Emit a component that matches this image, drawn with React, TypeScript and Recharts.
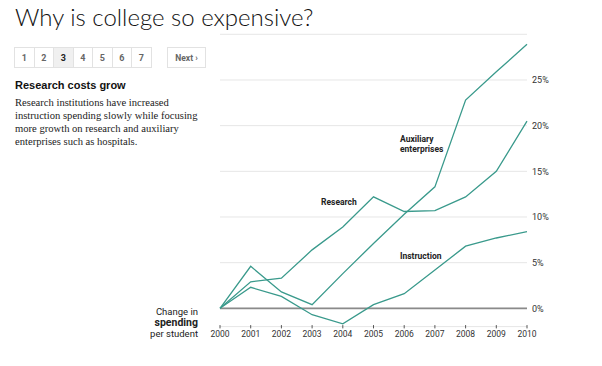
import { LineChart, Line, XAxis, YAxis, CartesianGrid, ReferenceLine } from 'recharts';

const years = [2000, 2001, 2002, 2003, 2004, 2005, 2006, 2007, 2008, 2009, 2010];
const research = [0, 2.9, 3.3, 6.4, 8.9, 12.2, 10.6, 10.7, 12.2, 15.0, 20.5];
const auxiliary = [0, 4.6, 1.8, 0.4, 3.8, 7.1, 10.3, 13.3, 22.8, 25.9, 28.9];
const instruction = [0, 2.3, 1.3, -0.7, -1.7, 0.4, 1.6, 4.2, 6.8, 7.7, 8.4];
const yTicks = [0, 5, 10, 15, 20, 25];
const pages = ['1', '2', '3', '4', '5', '6', '7'];
const currentPage = '3';

const data = years.map((year, i) => ({
  year,
  research: research[i],
  auxiliary: auxiliary[i],
  instruction: instruction[i],
}));

const TEAL = '#3a9a8c';
const SANS = 'Roboto, "Liberation Sans", sans-serif';

function YearTick({ x, y, payload }: any) {
  return (
    <g>
      <line x1={x} x2={x} y1={y - 1.5} y2={y + 1.8} stroke="#555" strokeWidth={1} />
      <text x={x} y={y + 10} textAnchor="middle" fontSize={8.5} fill="#333" fontFamily={SANS}>
        {payload.value}
      </text>
    </g>
  );
}

function PctTick({ x, y, payload }: any) {
  return (
    <text x={x} y={y + 3.5} textAnchor="start" fontSize={9} fill="#333" fontFamily={SANS}>
      {payload.value}%
    </text>
  );
}

const annot: React.CSSProperties = {
  position: 'absolute',
  fontFamily: SANS,
  fontWeight: 700,
  fontSize: 8.5,
  color: '#222',
  lineHeight: '10px',
};

export default function App() {
  return (
    <div style={{ position: 'absolute', left: 0, top: 0, width: 602, height: 366, background: '#fff', overflow: 'hidden' }}>
      <div style={{ position: 'absolute', left: 15, top: 2, fontFamily: 'Lato, sans-serif', fontWeight: 300, fontSize: 24, color: '#111', whiteSpace: 'nowrap' }}>
        Why is college so expensive?
      </div>

      <div style={{ position: 'absolute', left: 15, top: 47, display: 'flex' }}>
        {pages.map((p) => (
          <div
            key={p}
            style={{
              width: 20.5,
              height: 21,
              boxSizing: 'border-box',
              border: '1px solid #e2e2e2',
              marginLeft: -1,
              background: p === currentPage ? '#f0f0f0' : '#fff',
              color: p === currentPage ? '#222' : '#666',
              fontFamily: SANS,
              fontWeight: 700,
              fontSize: 9,
              display: 'flex',
              alignItems: 'center',
              justifyContent: 'center',
            }}
          >
            {p}
          </div>
        ))}
      </div>
      <div
        style={{
          position: 'absolute',
          left: 167,
          top: 47,
          width: 39,
          height: 21,
          boxSizing: 'border-box',
          border: '1px solid #e2e2e2',
          color: '#666',
          fontFamily: SANS,
          fontWeight: 700,
          fontSize: 8.5,
          display: 'flex',
          alignItems: 'center',
          justifyContent: 'center',
        }}
      >
        Next ›
      </div>

      <div style={{ position: 'absolute', left: 15, top: 79, fontFamily: '"Liberation Sans", Arial, sans-serif', fontWeight: 700, fontSize: 11, color: '#111' }}>
        Research costs grow
      </div>
      <div style={{ position: 'absolute', left: 15, top: 96, width: 196, fontFamily: '"Liberation Serif", serif', fontSize: 10.6, lineHeight: '13px', color: '#222' }}>
        Research institutions have increased
        <br />
        instruction spending slowly while focusing
        <br />
        more growth on research and auxiliary
        <br />
        enterprises such as hospitals.
      </div>

      <LineChart
        width={602}
        height={366}
        data={data}
        margin={{ top: 34.3, right: 0, bottom: 0, left: 220 }}
        style={{ position: 'absolute', left: 0, top: 0 }}
      >
        <CartesianGrid vertical={false} stroke="#e6e6e6" />
        <XAxis
          dataKey="year"
          type="number"
          domain={[2000, 2010]}
          ticks={years}
          axisLine={false}
          tickLine={false}
          tickSize={0}
          tickMargin={0}
          height={39.4}
          tick={<YearTick />}
          interval={0}
        />
        <YAxis
          orientation="right"
          domain={[-2, 30]}
          allowDataOverflow
          ticks={yTicks}
          axisLine={false}
          tickLine={false}
          tickSize={4}
          tickMargin={1}
          width={75}
          tick={<PctTick />}
        />
        <ReferenceLine y={0} stroke="#8a8a8a" strokeWidth={1.6} />
        <Line dataKey="research" stroke={TEAL} strokeWidth={1.3} dot={false} isAnimationActive={false} />
        <Line dataKey="auxiliary" stroke={TEAL} strokeWidth={1.3} dot={false} isAnimationActive={false} />
        <Line dataKey="instruction" stroke={TEAL} strokeWidth={1.3} dot={false} isAnimationActive={false} />
      </LineChart>

      <div style={{ ...annot, left: 321, top: 197 }}>Research</div>
      <div style={{ ...annot, left: 400, top: 134 }}>
        Auxiliary
        <br />
        enterprises
      </div>
      <div style={{ ...annot, left: 400, top: 251 }}>Instruction</div>

      <div style={{ position: 'absolute', right: 404, top: 306, textAlign: 'right', fontFamily: SANS, fontSize: 9.5, lineHeight: '11px', color: '#222' }}>
        Change in
        <br />
        <span style={{ fontWeight: 700, fontSize: 10.5 }}>spending</span>
        <br />
        per student
      </div>
    </div>
  );
}
